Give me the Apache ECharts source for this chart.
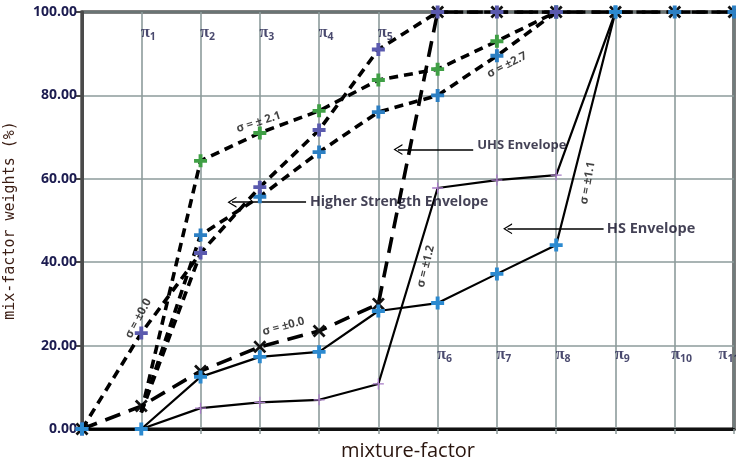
<!DOCTYPE html>
<html><head><meta charset="utf-8">
<script src="https://cdn.jsdelivr.net/npm/echarts@6/dist/echarts.min.js"></script>
<style>html,body{margin:0;padding:0;background:#fff}#c{width:736px;height:459px}</style>
</head><body><div id="c"></div>
<script>
// ---- data ----
const mixPoints = [0, 1, 2, 3, 4, 5, 6, 7, 8, 9, 10, 11];
const piSubscripts = ['1','2','3','4','5','6','7','8','9','10','11'];
const yTicks = [0, 20, 40, 60, 80, 100];
// dashed envelopes (upper group)
const greenDashed  = [null, 4, 64.3, 71, 76.3, 83.7, 86.3, 93, 100, null, null, null];
const blueDashed   = [null, 4, 46.5, 55.7, 66.4, 76, 80, 89.5, 100, 100, 100, 100];
const purpleDashed = [0, 23, 42.2, 58, 71.7, 91, 100, 100, 100, null, null, null];
const purpleBranch = [null, 4, 42.2, null, null, null, null, null, null, null, null, null];
// dashed black-X envelope (sigma = 0.0)
const blackXDashed = [0, 5.5, 13.9, 19.7, 23.5, 30, 100, 100, 100, 100, 100, 100];
// solid envelopes
const blueSolid    = [0, 0, 12.5, 17.3, 18.5, 28.3, 30.2, 37.2, 44.1, 100, null, null];
const purpleSolid  = [null, 0, 5, 6.4, 7, 10.8, 57.8, 59.7, 60.9, 100, null, null];
// annotation texts
const sigmaTexts = ['σ = ± 2.1', 'σ = ±2.7', 'σ = ±0.0', 'σ = ±0.0', 'σ = ±1.2', 'σ = ±1.1'];
const envelopeTexts = ['UHS Envelope', 'Higher Strength Envelope', 'HS Envelope'];

// ---- build chart ----
const PLUS = 'path://M3.5,0H6.5V3.5H10V6.5H6.5V10H3.5V6.5H0V3.5H3.5Z';
const THINPLUS = 'path://M4.4,0H5.6V4.4H10V5.6H5.6V10H4.4V5.6H0V4.4H4.4Z';
const XMARK = 'path://M1.5,0L5,3.5L8.5,0L10,1.5L6.5,5L10,8.5L8.5,10L5,6.5L1.5,10L0,8.5L3.5,5L0,1.5Z';
const CHEVRON = 'path://M0,10L5,0L10,10L8.8,10L5,2.4L1.2,10Z';

// first non-null point of a stub-start series carries no marker
function pairs(vals, hideFirst) {
  let first = vals.findIndex(v => v !== null);
  return mixPoints.map((x, i) => {
    if (hideFirst && i === first) return { value: [x, vals[i]], symbol: 'none' };
    return [x, vals[i]];
  });
}
function dashedSeries(vals, color, sym, dash, z, hideFirst) {
  return {
    type: 'line', data: pairs(vals, hideFirst), connectNulls: false, z: z,
    symbol: sym, symbolSize: 13, showSymbol: true,
    itemStyle: { color: color },
    lineStyle: { color: '#000', width: 3.6, type: dash },
    animation: false
  };
}
function solidSeries(vals, color, sym, size, z) {
  return {
    type: 'line', data: pairs(vals, false), z: z,
    symbol: sym, symbolSize: size,
    itemStyle: { color: color },
    lineStyle: { color: '#000', width: 2.2, type: 'solid' },
    animation: false
  };
}

const sigmaSpec = [
  { at: [2.98, 73.6], rot: 18 },
  { at: [7.17, 87.3], rot: 27 },
  { at: [0.95, 26.5], rot: 62 },
  { at: [3.4, 24.6], rot: 15 },
  { at: [5.8, 39], rot: 76 },
  { at: [8.53, 59], rot: 80 }
];
const envSpec = [
  { at: [7.42, 68.1], size: 13, arrow: [[6.6, 67.0], [5.33, 67.0]] },
  { at: [5.35, 54.4], size: 14, arrow: [[3.78, 54.4], [2.53, 54.4]] },
  { at: [9.6, 48.0], size: 14.5, arrow: [[8.8, 48.0], [7.18, 48.0]] }
];

const txtFont = 'Open Sans';
const annotationSeries = {
  type: 'scatter', symbolSize: 0, z: 20, animation: false, silent: true,
  data: sigmaTexts.map((t, i) => ({
    value: sigmaSpec[i].at,
    label: { show: true, position: 'inside', formatter: t, rotate: sigmaSpec[i].rot,
      color: '#111', fontFamily: txtFont, fontWeight: 'bold', fontSize: 11.5 }
  })).concat(envelopeTexts.map((t, i) => ({
    value: envSpec[i].at,
    label: { show: true, position: 'inside', formatter: t,
      color: '#15132c', fontFamily: txtFont, fontWeight: 'bold', fontSize: envSpec[i].size }
  }))),
  markLine: {
    silent: true, animation: false,
    symbol: ['none', CHEVRON], symbolSize: [11, 9],
    lineStyle: { color: '#000', width: 1.6, type: 'solid' },
    label: { show: false },
    data: envSpec.map(e => [{ coord: e.arrow[0] }, { coord: e.arrow[1] }])
  }
};

const lastPi = piSubscripts.length - 1;
const piSeries = {
  type: 'scatter', symbolSize: 0, z: 21, animation: false, silent: true,
  data: piSubscripts.map((s, i) => ({
    value: [mixPoints[i + 1], i < 5 ? 95.0 : 17.8],
    label: { show: true, position: 'inside', offset: [i === lastPi ? -5 : 7, 0], formatter: '{p|π}{s|' + s + '}',
      rich: {
        p: { fontFamily: 'Liberation Serif', fontWeight: 'bold', fontSize: 16, color: '#1c1c4a' },
        s: { fontFamily: 'Open Sans', fontWeight: 'bold', fontSize: 10.5, color: '#1c1c4a', padding: [8, 0, 0, 0] }
      } }
  }))
};

const chart = echarts.init(document.getElementById('c'), null, { renderer: 'canvas' });
chart.setOption({
  animation: false,
  backgroundColor: '#fff',
  grid: { left: 82, right: 2, top: 12, bottom: 30, containLabel: false, outerBoundsMode: 'none',
    show: true, borderColor: '#000', borderWidth: 3 },
  xAxis: {
    type: 'value', min: mixPoints[0], max: mixPoints[mixPoints.length - 1], interval: 1,
    name: 'mixture-factor', nameLocation: 'middle', nameGap: 12,
    nameTextStyle: { fontFamily: txtFont, fontSize: 20, color: '#2a150e' },
    axisLine: { lineStyle: { color: '#111', width: 3 } },
    axisTick: { show: true, length: 5, lineStyle: { color: '#8d9b9b', width: 1.5 } },
    axisLabel: { show: false },
    splitLine: { show: true, lineStyle: { color: '#8d9b9b', width: 1.6 } }
  },
  yAxis: {
    type: 'value', min: yTicks[0], max: yTicks[yTicks.length - 1], interval: yTicks[1] - yTicks[0],
    name: 'mix-factor weights (%)', nameLocation: 'middle', nameGap: 64,
    nameTextStyle: { fontFamily: 'DejaVu Sans Mono', fontSize: 15, color: '#3a1c12' },
    axisLine: { show: true, lineStyle: { color: '#4a4a4a', width: 3 } },
    axisTick: { show: true, length: 6, lineStyle: { color: '#4a4a4a', width: 2 } },
    axisLabel: { formatter: v => v.toFixed(2), color: '#1c1c50', fontFamily: txtFont,
      fontWeight: 'bold', fontSize: 14, margin: 5 },
    splitLine: { show: true, lineStyle: { color: '#8d9b9b', width: 1.6 } }
  },
  series: [
    dashedSeries(blackXDashed, '#111', XMARK, [16, 9], 3, false),
    dashedSeries(purpleBranch, '#5a5aae', 'none', [9, 6], 4, true),
    dashedSeries(greenDashed, '#3f9f45', PLUS, [9, 6], 5, true),
    dashedSeries(blueDashed, '#2c7fc3', PLUS, [9, 6], 6, true),
    dashedSeries(purpleDashed, '#5a5aae', PLUS, [9, 6], 7, false),
    solidSeries(purpleSolid, '#a77cc6', THINPLUS, 11, 8),
    solidSeries(blueSolid, '#2c8ad0', PLUS, 13, 9),
    annotationSeries,
    piSeries
  ]
});
</script>
</body></html>
